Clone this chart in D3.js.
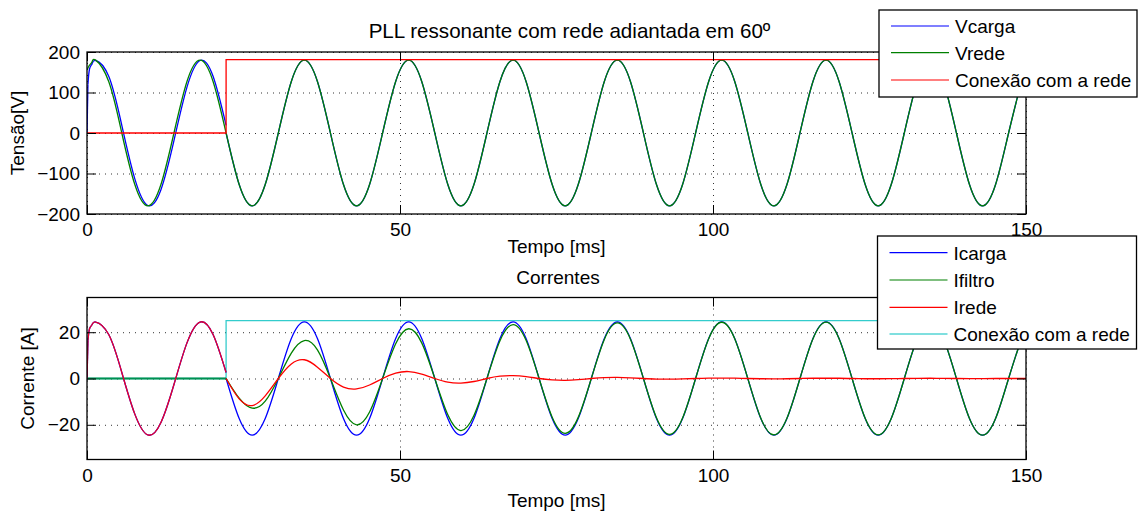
<!DOCTYPE html>
<html><head><meta charset="utf-8">
<script src="https://cdn.jsdelivr.net/npm/d3@7"></script>
<style>
body{margin:0;background:#fff}
svg text{font-family:"Liberation Sans",Arial,Helvetica,sans-serif;fill:#000}
</style>
</head><body>
<svg id="chart" width="1138" height="511"></svg>
<script>
// ---------------- data ----------------
const timePreMs = [0, 0.15, 0.4, 0.8, 1.39, 3.47, 5.56, 7.64, 9.72, 11.81, 13.89, 15.97, 18.06, 20.14, 22.22];
const timePostMs = [
  22.22, 24.31, 26.39, 28.47, 30.56, 32.64, 34.72, 36.81,
  38.89, 40.97, 43.06, 45.14, 47.22, 49.31, 51.39, 53.47,
  55.56, 57.64, 59.72, 61.81, 63.89, 65.97, 68.06, 70.14,
  72.22, 74.31, 76.39, 78.47, 80.56, 82.64, 84.72, 86.81,
  88.89, 90.97, 93.06, 95.14, 97.22, 99.31, 101.39, 103.47,
  105.56, 107.64, 109.72, 111.81, 113.89, 115.97, 118.06, 120.14,
  122.22, 124.31, 126.39, 128.47, 130.56, 132.64, 134.72, 136.81,
  138.89, 140.97, 143.06, 145.14, 147.22, 149.31, 150];

// Tensão [V]
const vcargaPre = [0, 120, 158, 170.5, 179, 139.9, 18.8, -113.3, -179, -139.9, -18.8, 113.3, 179, 139.9, 18.8];
const vredePre  = [155.9, 160.7, 167.6, 175.6, 180, 127.3, 0, -127.3, -180, -127.3, 0, 127.3, 180, 127.3, 0];
const vredePost = [
  0, -127.3, -180, -127.3, 0, 127.3, 180, 127.3,
  0, -127.3, -180, -127.3, 0, 127.3, 180, 127.3,
  0, -127.3, -180, -127.3, 0, 127.3, 180, 127.3,
  0, -127.3, -180, -127.3, 0, 127.3, 180, 127.3,
  0, -127.3, -180, -127.3, 0, 127.3, 180, 127.3,
  0, -127.3, -180, -127.3, 0, 127.3, 180, 127.3,
  0, -127.3, -180, -127.3, 0, 127.3, 180, 127.3,
  0, -127.3, -180, -127.3, 0, 127.3, 155.9];
const vcargaPost = vredePost.slice(); // load voltage follows the grid after connection
const conexaoTimeMs = [0, 22.22, 22.22, 150];
const conexaoTensao = [0, 0, 181, 181];

// Correntes [A]
const icargaPre  = [0, 16.3, 21.5, 23.2, 24.4, 19.0, 2.6, -15.4, -24.4, -19.0, -2.6, 15.4, 24.4, 19.0, 2.6];
const ifiltroPre = [0, 0, 0, 0, 0, 0, 0, 0, 0, 0, 0, 0, 0, 0, 0];
const iredePre   = [0, 16.3, 21.5, 23.2, 24.4, 19.0, 2.6, -15.4, -24.4, -19.0, -2.6, 15.4, 24.4, 19.0, 2.6];
const icargaPost = [
  0, -17.3, -24.5, -17.3, 0, 17.3, 24.5, 17.3,
  0, -17.3, -24.5, -17.3, 0, 17.3, 24.5, 17.3,
  0, -17.3, -24.5, -17.3, 0, 17.3, 24.5, 17.3,
  0, -17.3, -24.5, -17.3, 0, 17.3, 24.5, 17.3,
  0, -17.3, -24.5, -17.3, 0, 17.3, 24.5, 17.3,
  0, -17.3, -24.5, -17.3, 0, 17.3, 24.5, 17.3,
  0, -17.3, -24.5, -17.3, 0, 17.3, 24.5, 17.3,
  0, -17.3, -24.5, -17.3, 0, 17.3, 21.2];
const ifiltroPost = [
  0, -8.5, -12.8, -9.8, 0, 11.0, 16.4, 12.4,
  0, -13.6, -20.0, -14.5, 0, 15.0, 21.5, 15.4,
  0, -15.7, -22.5, -16.0, 0, 16.3, 23.3, 16.5,
  0, -16.7, -23.7, -16.8, 0, 16.9, 24.0, 17.0,
  0, -17.0, -24.2, -17.1, 0, 17.2, 24.3, 17.2,
  0, -17.2, -24.4, -17.2, 0, 17.2, 24.4, 17.2,
  0, -17.2, -24.4, -17.3, 0, 17.3, 24.4, 17.3,
  0, -17.3, -24.5, -17.3, 0, 17.3, 21.2];
const iredePost = [
  0, -8.8, -11.7, -7.5, 0, 6.3, 8.1, 4.9,
  0, -3.7, -4.5, -2.8, 0, 2.3, 3.0, 1.9,
  0, -1.6, -2.0, -1.3, 0, 1.0, 1.2, 0.8,
  0, -0.6, -0.8, -0.5, 0, 0.4, 0.5, 0.3,
  0, -0.25, -0.3, -0.2, 0, 0.15, 0.2, 0.12,
  0, -0.1, -0.15, -0.1, 0, 0.1, 0.1, 0.1,
  0, -0.1, -0.1, -0.05, 0, 0.05, 0.1, 0.05,
  0, -0.05, -0.05, 0, 0, 0, 0];
const conexaoCorrente = [0, 0, 25, 25];

const xTicks = [0, 50, 100, 150];
const vTicks = [-200, -100, 0, 100, 200];
const iTicks = [-20, 0, 20];
const legendTop = ["Vcarga", "Vrede", "Conexão com a rede"];
const legendBottom = ["Icarga", "Ifiltro", "Irede", "Conexão com a rede"];

// ---------------- drawing ----------------
const COL = {blue: "#0000ff", green: "#008000", red: "#ff0000", cyan: "#00bfbf"};
const svg = d3.select("#chart");
const L = 87, R = 1026;
const x = d3.scaleLinear().domain([0, 150]).range([L, R]);

function panel(cfg) {
  const {top, bottom, y, yTicks, id} = cfg;
  const g = svg.append("g");
  const gx = g.append("g").attr("transform", `translate(0,${bottom})`)
    .call(d3.axisBottom(x).tickValues(xTicks).tickSize(-(bottom - top)).tickFormat(""));
  const gy = g.append("g").attr("transform", `translate(${L},0)`)
    .call(d3.axisLeft(y).tickValues(yTicks).tickSize(-(R - L)).tickFormat(""));
  [gx, gy].forEach(a => {
    a.select(".domain").remove();
    a.selectAll("line").attr("stroke", "#333").attr("stroke-dasharray", "1,5").attr("stroke-width", 1);
  });
  svg.append("clipPath").attr("id", id).append("rect")
    .attr("x", L).attr("y", top).attr("width", R - L).attr("height", bottom - top);
  const plot = svg.append("g").attr("clip-path", `url(#${id})`);
  return {g, plot};
}

function axesFrame(top, bottom, y, yTicks) {
  const g = svg.append("g");
  const ax = [
    g.append("g").attr("transform", `translate(0,${bottom})`)
      .call(d3.axisBottom(x).tickValues(xTicks).tickSizeInner(-9).tickSizeOuter(0).tickPadding(9)),
    g.append("g").attr("transform", `translate(0,${top})`)
      .call(d3.axisTop(x).tickValues(xTicks).tickSizeInner(-9).tickSizeOuter(0).tickFormat("")),
    g.append("g").attr("transform", `translate(${L},0)`)
      .call(d3.axisLeft(y).tickValues(yTicks).tickSizeInner(-9).tickSizeOuter(0).tickPadding(7)
        .tickFormat(d => d < 0 ? "\u2212" + Math.abs(d) : d)),
    g.append("g").attr("transform", `translate(${R},0)`)
      .call(d3.axisRight(y).tickValues(yTicks).tickSizeInner(-9).tickSizeOuter(0).tickFormat(""))
  ];
  ax.forEach(a => {
    a.select(".domain").remove();
    a.selectAll("line").attr("stroke", "#000").attr("stroke-width", 1);
    a.selectAll("text").attr("font-size", 19).attr("font-family", null);
  });
  g.append("rect").attr("x", L).attr("y", top).attr("width", R - L).attr("height", bottom - top)
    .attr("fill", "none").attr("stroke", "#000").attr("stroke-width", 1.3);
}

function series(target, times, values, y, color, width, sharpStart) {
  const pts = times.map((t, i) => [t, values[i]]);
  const smooth = d3.line().x(d => x(d[0])).y(d => y(d[1])).curve(d3.curveNatural);
  const straight = d3.line().x(d => x(d[0])).y(d => y(d[1]));
  if (sharpStart) {
    target.append("path").attr("d", straight(pts.slice(0, 2)))
      .attr("fill", "none").attr("stroke", color).attr("stroke-width", width);
    target.append("path").attr("d", smooth(pts.slice(1)))
      .attr("fill", "none").attr("stroke", color).attr("stroke-width", width);
  } else {
    target.append("path").attr("d", smooth(pts))
      .attr("fill", "none").attr("stroke", color).attr("stroke-width", width);
  }
}
function stepLine(target, times, values, y, color, width, opacity) {
  const line = d3.line().x((d, i) => x(times[i])).y(d => y(d));
  target.append("path").attr("d", line(values)).attr("fill", "none")
    .attr("stroke", color).attr("stroke-width", width).attr("stroke-opacity", opacity || 1);
}

function legend(x0, y0, w, h, labels, colors, rowY) {
  const g = svg.append("g");
  g.append("rect").attr("x", x0).attr("y", y0).attr("width", w).attr("height", h)
    .attr("fill", "#fff").attr("stroke", "#000").attr("stroke-width", 1.3);
  labels.forEach((lab, i) => {
    const yy = rowY[i];
    g.append("line").attr("x1", x0 + 12).attr("x2", x0 + 70).attr("y1", yy).attr("y2", yy)
      .attr("stroke", colors[i]).attr("stroke-width", 1.2);
    g.append("text").attr("x", x0 + 76).attr("y", yy).attr("dy", "0.36em")
      .attr("font-size", 19).text(lab);
  });
}

// ---- top panel ----
const yV = d3.scaleLinear().domain([-200, 200]).range([214, 52]);
const p1 = panel({top: 52, bottom: 214, y: yV, yTicks: vTicks, id: "clipTop"});
series(p1.plot, timePreMs, vcargaPre, yV, COL.blue, 1.3, true);
series(p1.plot, timePostMs, vcargaPost, yV, COL.blue, 1.3, false);
series(p1.plot, timePreMs, vredePre, yV, COL.green, 1.3, false);
series(p1.plot, timePostMs, vredePost, yV, COL.green, 1.3, false);
stepLine(p1.plot, conexaoTimeMs, conexaoTensao, yV, COL.red, 1.3);
axesFrame(52, 214, yV, vTicks);

// ---- bottom panel ----
const yI = d3.scaleLinear().domain([-35, 35]).range([459.5, 297.5]);
const p2 = panel({top: 297.5, bottom: 459.5, y: yI, yTicks: iTicks, id: "clipBot"});
stepLine(p2.plot, conexaoTimeMs, conexaoCorrente, yI, COL.cyan, 1.3, 0.8);
series(p2.plot, timePreMs, icargaPre, yI, COL.blue, 1.3, true);
series(p2.plot, timePostMs, icargaPost, yI, COL.blue, 1.3, false);
series(p2.plot, timePreMs, ifiltroPre, yI, "#009050", 2, false);
series(p2.plot, timePostMs, ifiltroPost, yI, COL.green, 1.3, false);
series(p2.plot, timePreMs, iredePre, yI, "#e8002a", 1.3, true);
series(p2.plot, timePostMs, iredePost, yI, COL.red, 1.3, false);
axesFrame(297.5, 459.5, yI, iTicks);

// ---- titles / labels ----
svg.append("text").attr("x", 569.5).attr("y", 37.5).attr("text-anchor", "middle")
  .attr("font-size", 20.6).text("PLL ressonante com rede adiantada em 60º");
svg.append("text").attr("x", 556.5).attr("y", 253).attr("text-anchor", "middle")
  .attr("font-size", 19).text("Tempo [ms]");
svg.append("text").attr("x", 558).attr("y", 284).attr("text-anchor", "middle")
  .attr("font-size", 19).text("Correntes");
svg.append("text").attr("x", 556.5).attr("y", 507).attr("text-anchor", "middle")
  .attr("font-size", 19).text("Tempo [ms]");
svg.append("text").attr("transform", "translate(24,133) rotate(-90)").attr("text-anchor", "middle")
  .attr("font-size", 19).text("Tensão[V]");
svg.append("text").attr("transform", "translate(34,378.5) rotate(-90)").attr("text-anchor", "middle")
  .attr("font-size", 19).text("Corrente [A]");

// ---- legends ----
legend(879, 10, 258, 87, legendTop, [COL.blue, COL.green, COL.red], [26, 52.7, 80]);
legend(877.5, 236, 259, 113, legendBottom, [COL.blue, COL.green, COL.red, COL.cyan], [252.7, 280, 307.3, 334]);
</script>
</body></html>
